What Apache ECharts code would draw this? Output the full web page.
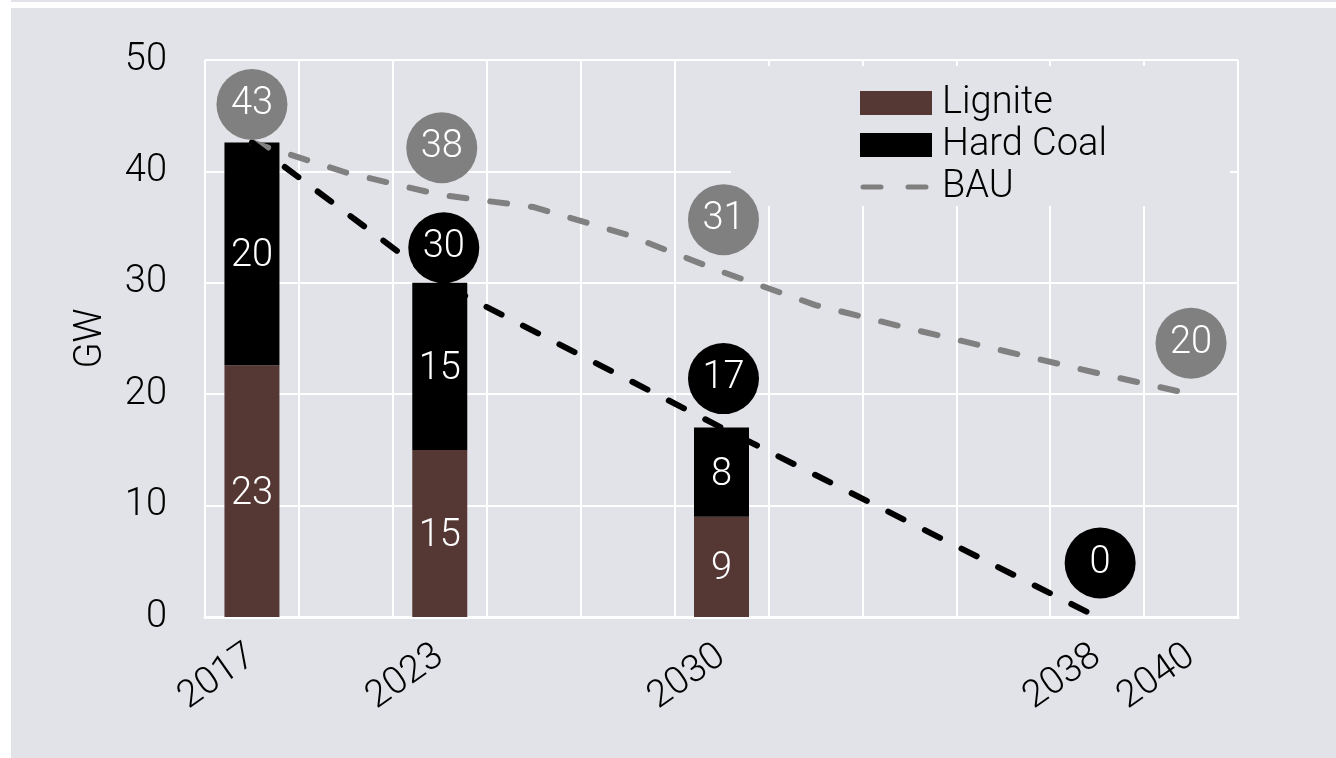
<!DOCTYPE html>
<html>
<head>
<meta charset="utf-8">
<script src="https://cdn.jsdelivr.net/npm/echarts@6/dist/echarts.min.js"></script>
<style>
  html, body { margin: 0; padding: 0; background: #ffffff; }
  #topline { position: absolute; left: 11px; top: 0; width: 1325px; height: 2px; background: #e2e3e8; }
  #panel { position: absolute; left: 11px; top: 8px; width: 1325px; height: 750px; background: #e2e3e8; }
  #chart { position: absolute; left: 0; top: 0; width: 1336px; height: 758px; }
</style>
</head>
<body>
<div id="topline"></div>
<div id="panel"></div>
<div id="chart"></div>
<script>
// Categories (only some years labelled)
const categories = ['2017', '', '2023', '', '', '2030', '', '', '', '2038', '2040'];
// Stacked bars (GW)
const lignite   = [22.6, null, 15, null, null, 9, null, null, null, null, null];
const hardCoal  = [20.0, null, 15, null, null, 8, null, null, null, null, null];
// Phase-out path (black dashed)
const phaseOut  = [42.6, null, 30, null, null, 17, null, null, null, 0, null];
// Business as usual (grey dashed)
const bau       = [42.6, 39.9, 37.9, 36.8, 34.3, 31.0, 28.0, 25.9, 23.9, 21.9, 20.0];
// Bubble labels: which categories get a value bubble
const bauBubbleIdx   = [0, 2, 5, 10];
const phaseBubbleIdx = [2, 5, 9];

// style only: pixel offsets of the bubbles relative to their data point
const bauBubbleOffset   = [[0, -38], [2, -47], [2, -52], [0, -51]];
const phaseBubbleOffset = [[4, -35], [2, -49], [3, -54]];

const FONT = 'Roboto';
const FS = 38;
const GREY = '#808080';
const LIGNITE = '#553834';
const PANEL = '#e2e3e8';

// legend icon for BAU: two rounded dashes inside a 72x24 box
const DASH_ICON = 'path://M0,0h0.01v0.01h-0.01z M72,24h-0.01v-0.01h0.01z ' +
  'M3,9.5h18a2.5,2.5 0 0 1 0,5h-18a2.5,2.5 0 0 1 0,-5z ' +
  'M48,9.5h18a2.5,2.5 0 0 1 0,5h-18a2.5,2.5 0 0 1 0,-5z';

function bubbleData(values, idxs, offsets) {
  return idxs.map((i, k) => ({
    value: [i, values[i]],
    symbolOffset: offsets[k]
  }));
}

const chart = echarts.init(document.getElementById('chart'), null, { renderer: 'canvas' });
chart.setOption({
  animation: false,
  backgroundColor: 'transparent',
  textStyle: { fontFamily: FONT, fontWeight: 300 },
  grid: { left: 205, right: 98, top: 60, bottom: 141, containLabel: false },
  legend: {
    orient: 'vertical',
    left: 731,
    top: 66,
    backgroundColor: PANEL,
    padding: [18, 123, 0, 129],
    itemWidth: 72,
    itemHeight: 24,
    itemGap: 4,
    data: [
      { name: 'Lignite', icon: 'rect' },
      { name: 'Hard Coal', icon: 'rect' },
      { name: 'BAU', icon: DASH_ICON, itemStyle: { color: GREY } }
    ],
    textStyle: { fontFamily: FONT, fontWeight: 300, fontSize: FS, color: '#000', lineHeight: 38, padding: [0, 0, 0, 5] }
  },
  xAxis: {
    type: 'category',
    data: categories,
    boundaryGap: true,
    axisLine: { show: true, lineStyle: { color: '#ffffff', width: 3 } },
    axisTick: { show: false },
    splitLine: { show: true, interval: 0, lineStyle: { color: '#ffffff', width: 2 } },
    axisLabel: { interval: 0, rotate: 35, margin: 36, fontFamily: FONT, fontWeight: 300, fontSize: FS, color: '#000' }
  },
  yAxis: {
    type: 'value',
    min: 0, max: 50, interval: 10,
    name: 'GW',
    nameLocation: 'middle',
    nameGap: 95,
    nameRotate: 90,
    nameTextStyle: { fontFamily: FONT, fontWeight: 300, fontSize: FS, color: '#000' },
    axisLine: { show: false },
    axisTick: { show: false },
    splitLine: { show: true, lineStyle: { color: '#ffffff', width: 2 } },
    axisLabel: { margin: 38, fontFamily: FONT, fontWeight: 300, fontSize: FS, color: '#000' }
  },
  series: [
    {
      name: 'Lignite', type: 'bar', stack: 'coal', data: lignite, barWidth: 55,
      itemStyle: { color: LIGNITE }, z: 2,
      label: { show: true, position: 'inside', offset: [0, 3], color: '#fff', fontFamily: FONT, fontWeight: 300, fontSize: FS,
               formatter: p => p.value == null ? '' : String(Math.round(p.value)) }
    },
    {
      name: 'Hard Coal', type: 'bar', stack: 'coal', data: hardCoal, barWidth: 55,
      itemStyle: { color: '#000000' }, z: 2,
      label: { show: true, position: 'inside', offset: [0, 3], color: '#fff', fontFamily: FONT, fontWeight: 300, fontSize: FS,
               formatter: p => p.value == null ? '' : String(Math.round(p.value)) }
    },
    {
      name: 'BAU', type: 'line', data: bau, symbol: 'none', showSymbol: false, z: 3,
      lineStyle: { color: GREY, width: 6, type: [17, 24], cap: 'round' },
      itemStyle: { color: GREY }
    },
    {
      name: 'Phase-out', type: 'line', data: phaseOut, connectNulls: true, symbol: 'none', showSymbol: false, z: 3,
      lineStyle: { color: '#000000', width: 6, type: [17, 24], cap: 'round' },
      itemStyle: { color: '#000000' }
    },
    {
      name: 'BAU bubbles', type: 'scatter', symbol: 'circle', symbolSize: 71, z: 5,
      data: bubbleData(bau, bauBubbleIdx, bauBubbleOffset),
      itemStyle: { color: GREY, opacity: 1 },
      label: { show: true, position: 'inside', color: '#fff', fontFamily: FONT, fontWeight: 300, fontSize: FS,
               formatter: p => String(Math.round(p.value[1])) }
    },
    {
      name: 'Phase-out bubbles', type: 'scatter', symbol: 'circle', symbolSize: 71, z: 5,
      data: bubbleData(phaseOut, phaseBubbleIdx, phaseBubbleOffset),
      itemStyle: { color: '#000000', opacity: 1 },
      label: { show: true, position: 'inside', color: '#fff', fontFamily: FONT, fontWeight: 300, fontSize: FS,
               formatter: p => String(Math.round(p.value[1])) }
    }
  ]
});
</script>
</body>
</html>
